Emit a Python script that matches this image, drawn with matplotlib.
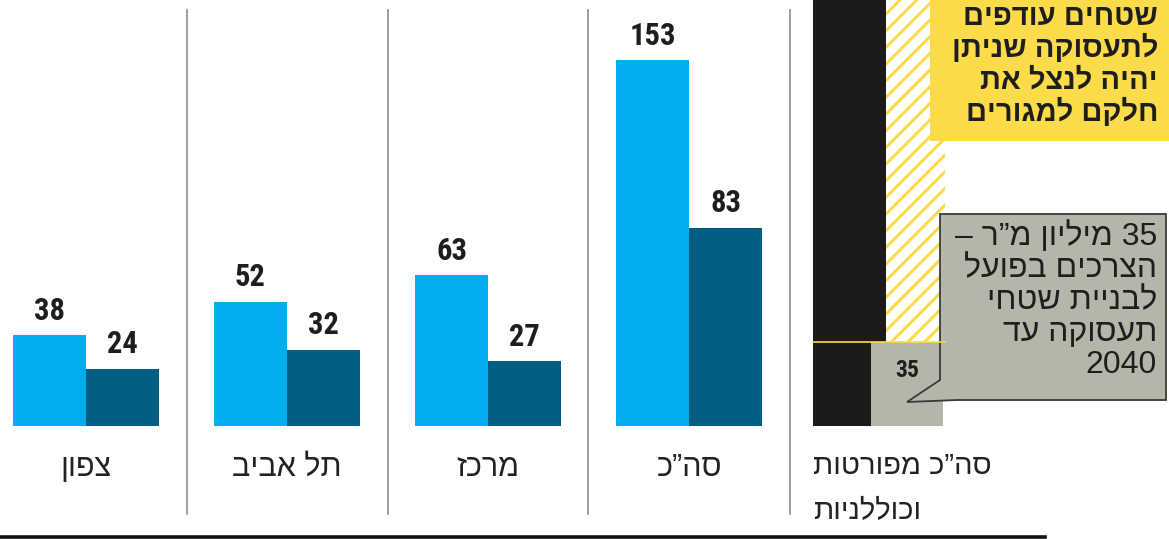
import re
import matplotlib
matplotlib.use('Agg')
import matplotlib.pyplot as plt
from matplotlib.patches import Polygon

################################ data
regions = ['צפון', 'תל אביב', 'מרכז', 'סה”כ']
light_vals = [38, 52, 63, 153]
dark_vals = [24, 32, 27, 83]
needed = 35          # gray part of right panel
total_plans = 260    # black bar, runs off the top (estimate)

panel_label = ['סה”כ מפורטות', 'וכוללניות']
yellow_note = ['שטחים עודפים', 'לתעסוקה שניתן', 'יהיה לנצל את', 'חלקם למגורים']
gray_note = ['35 מיליון מ”ר –', 'הצרכים בפועל', 'לבניית שטחי', 'תעסוקה עד', '2040']

################################ style
LIGHT = '#00aeef'
DARK = '#045e82'
GRAY = '#b6b5aa'
YELLOW = '#fcdb4a'
BLACK = '#1d1a1a'
HEB = ['Liberation Sans', 'DejaVu Sans']
NUM = ['Roboto Condensed', 'Liberation Sans Narrow', 'Roboto', 'DejaVu Sans']
plt.rcParams['hatch.linewidth'] = 2.2


def rtl(s):
    # matplotlib has no bidi, flip the string but keep digit runs
    r = s[::-1]
    return re.sub(r'\d+', lambda m: m.group(0)[::-1], r)


W, H = 1169, 539
BASE = 426
PXU = 2.39


def yv(py):
    return (BASE - py) / PXU


fig = plt.figure(figsize=(W / 100, H / 100), dpi=100)
ax = fig.add_axes([0, 0, 1, 1])
ax.set_xlim(0, W)
ax.set_ylim(yv(H), yv(0))
ax.axis('off')

################################ grouped bars
bw = 73
centers = [86 + 201 * i for i in range(len(regions))]
xl = [c - bw / 2 for c in centers]
xd = [c + bw / 2 for c in centers]
ax.bar(xl, light_vals, width=bw, color=LIGHT, linewidth=0)
ax.bar(xd, dark_vals, width=bw, color=DARK, linewidth=0)

for x, v in list(zip(xl, light_vals)) + list(zip(xd, dark_vals)):
    ax.annotate(str(v), (x, v), xytext=(0, 11), textcoords='offset points',
                ha='center', va='baseline', fontsize=22, fontweight='bold',
                family=NUM, color='#1e1e1e')

for c, name in zip(centers, regions):
    ax.text(c, yv(476), rtl(name), ha='center', va='baseline', fontsize=22,
            family=HEB, color='#222222')

for x in [187, 388, 588, 790]:
    ax.plot([x, x], [yv(10), yv(514)], color='#8f8f8f', lw=1.2)

################################ right panel
ax.bar(849.5, total_plans, width=73, color=BLACK, linewidth=0)
ax.bar(915.5, total_plans - needed, bottom=needed, width=59, facecolor='white',
       edgecolor=YELLOW, hatch='//', linewidth=0)
ax.plot([813, 945], [needed, needed], color=YELLOW, lw=1.2)
ax.bar(907, needed, width=72, color=GRAY, linewidth=0)
ax.text(907, yv(377), str(needed), ha='center', va='baseline', fontsize=17,
        fontweight='bold', family=NUM, color='#1e1e1e')

for i, line in enumerate(panel_label):
    ax.text(813, yv(474 + 45 * i), rtl(line), ha='left', va='baseline',
            fontsize=21, family=HEB, color='#222222')

# yellow note
ax.fill([930, W, W, 930], [yv(0), yv(0), yv(141), yv(141)], color=YELLOW,
        linewidth=0)
for i, line in enumerate(yellow_note):
    ax.text(1158, yv(25 + 32 * i), rtl(line), ha='right', va='baseline',
            fontsize=21, fontweight='bold', family=HEB, color='#1e1e1e')

# gray callout
pts = [(940, 214), (1166, 214), (1166, 400), (957, 400), (907, 402), (940, 380)]
ax.add_patch(Polygon([(x, yv(y)) for x, y in pts], closed=True,
                     facecolor=GRAY, edgecolor='#3a3a3a', lw=1.3))
for i, line in enumerate(gray_note):
    ax.text(1157, yv(245 + 32 * i), rtl(line), ha='right', va='baseline',
            fontsize=23, family=HEB, color='#1e1e1e')

ax.plot([0, 1045], [yv(537), yv(537)], color='#111111', lw=2.6)

fig.savefig('out.png', dpi=100)
